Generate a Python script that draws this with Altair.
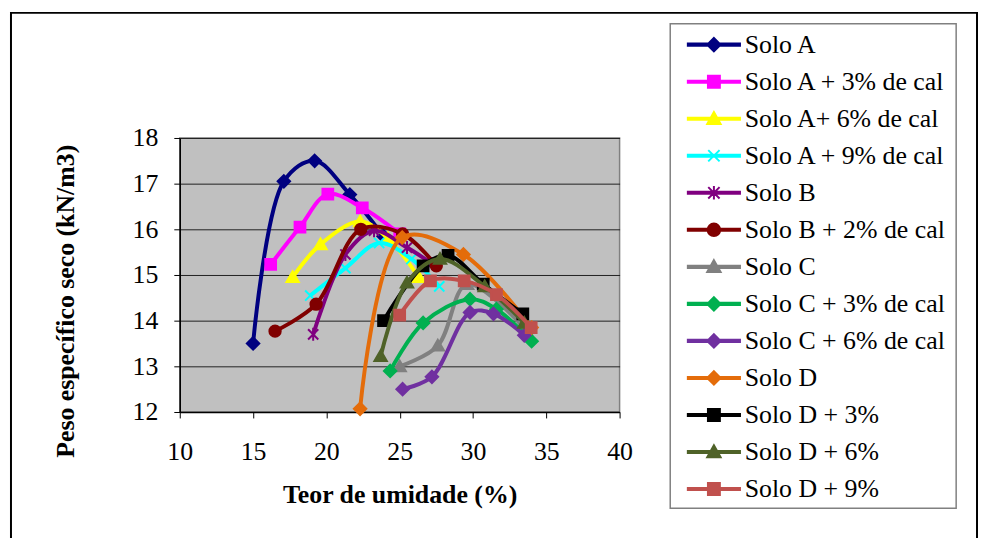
import altair as alt
import pandas as pd

# ---------------- data ----------------
series = [
    "Solo A", "Solo A + 3% de cal", "Solo A+ 6% de cal", "Solo A + 9% de cal",
    "Solo B", "Solo B + 2% de cal", "Solo C", "Solo C + 3% de cal",
    "Solo C + 6% de cal", "Solo D", "Solo D + 3%", "Solo D + 6%", "Solo D + 9%",
]
colors = [
    "#000080", "#FF00FF", "#FFFF00", "#00FFFF",
    "#800080", "#800000", "#808080", "#00B050",
    "#7030A0", "#E46C0A", "#000000", "#4F6228", "#C0504D",
]
markers = ["diamond", "square", "triangle", "x", "asterisk", "circle", "triangle",
           "diamond", "diamond", "diamond", "square", "triangle", "square"]

umidade = [
    [15.0, 17.1, 19.2, 21.6, 23.9],
    [16.2, 18.2, 20.1, 22.45, 25.0],
    [17.7, 19.6, 22.3, 24.2, 26.3],
    [18.9, 21.3, 23.6, 25.8, 27.7],
    [19.1, 21.3, 23.25, 25.5, 27.2],
    [16.5, 19.3, 22.35, 25.2, 27.5],
    [25.0, 27.6, 29.6, 33.6],
    [24.35, 26.6, 29.8, 31.6, 34.0],
    [25.2, 27.2, 29.8, 31.4, 33.5],
    [22.3, 25.17, 29.35, 34.0],
    [23.9, 26.6, 28.3, 30.7, 33.4],
    [23.7, 25.5, 27.75, 30.8, 33.5],
    [25.0, 27.1, 29.4, 31.6, 33.97],
]
peso = [
    [13.5, 17.05, 17.5, 16.76, 15.85],
    [15.23, 16.05, 16.77, 16.47, 15.9],
    [14.95, 15.67, 16.17, 15.8, 14.95],
    [14.55, 15.15, 15.7, 15.35, 14.75],
    [13.7, 15.45, 15.97, 15.6, 15.25],
    [13.77, 14.36, 16.0, 15.9, 15.2],
    [13.0, 13.45, 14.8, 13.8],
    [12.9, 13.95, 14.47, 14.25, 13.55],
    [12.5, 12.77, 14.18, 14.15, 13.68],
    [12.07, 15.82, 15.45, 13.85],
    [14.0, 15.2, 15.43, 14.8, 14.15],
    [13.22, 14.83, 15.35, 14.75, 13.95],
    [14.12, 14.87, 14.87, 14.57, 13.85],
]
x_ticks = [10, 15, 20, 25, 30, 35, 40]
y_ticks = [12, 13, 14, 15, 16, 17, 18]

# ---------------- marker paths ----------------
chart_paths = {
    "diamond": "M0,-1.1L1.1,0L0,1.1L-1.1,0Z",
    "square": "M-0.95,-0.95L0.95,-0.95L0.95,0.95L-0.95,0.95Z",
    "triangle": "M0,-1.05L1.1,0.85L-1.1,0.85Z",
    "x": "M-0.9,-0.9L0.9,0.9M-0.9,0.9L0.9,-0.9",
    "asterisk": "M-0.9,-0.9L0.9,0.9M-0.9,0.9L0.9,-0.9M0,-1.15L0,1.15",
    "circle": "M1,0A1,1 0 1,1 -1,0A1,1 0 1,1 1,0Z",
}
line_part = "M-1.75,-0.07L1.75,-0.07L1.75,0.07L-1.75,0.07Z"
legend_marker = {
    "diamond": "M0,-0.45L0.45,0L0,0.45L-0.45,0Z",
    "square": "M-0.4,-0.4L0.4,-0.4L0.4,0.4L-0.4,0.4Z",
    "triangle": "M0,-0.45L0.45,0.35L-0.45,0.35Z",
    "x": "M-0.38,-0.38L0.38,0.38M-0.38,0.38L0.38,-0.38",
    "asterisk": "M-0.38,-0.38L0.38,0.38M-0.38,0.38L0.38,-0.38M0,-0.45L0,0.45",
    "circle": "M0.42,0A0.42,0.42 0 1,1 -0.42,0A0.42,0.42 0 1,1 0.42,0Z",
}
legend_paths = [line_part + legend_marker[m] for m in markers]

rows = []
for s, xs, ys in zip(series, umidade, peso):
    for i, (xv, yv) in enumerate(zip(xs, ys)):
        rows.append({"serie": s, "umidade": xv, "peso": yv, "ordem": i})
df = pd.DataFrame(rows)

FONT = "Liberation Serif"
FS = 26

x_enc = alt.X(
    "umidade:Q",
    scale=alt.Scale(domain=[10, 40], nice=False, zero=False),
    axis=alt.Axis(
        values=x_ticks, title="Teor de umidade (%)", grid=False,
        tickSize=6, tickColor="black", domainColor="black", domainWidth=1.5,
        labelFont=FONT, labelFontSize=FS, labelColor="black", labelPadding=21,
        labelFlush=False, labelOverlap=False,
        titleFont=FONT, titleFontSize=FS, titleFontWeight="bold", titleColor="black",
        titleX=221.5, titleY=83, titleBaseline="middle", titleAlign="center",
    ),
)
y_enc = alt.Y(
    "peso:Q",
    scale=alt.Scale(domain=[12, 18], nice=False, zero=False),
    axis=alt.Axis(
        values=y_ticks, title="Peso específico seco (kN/m3)", grid=True,
        gridColor="#202020", gridWidth=1,
        tickSize=6, tickColor="black", domainColor="black", domainWidth=1.5,
        labelFont=FONT, labelFontSize=FS, labelColor="black", labelPadding=16,
        labelFlush=False, labelOverlap=False,
        titleFont=FONT, titleFontSize=FS, titleFontWeight="bold", titleColor="black",
        titleX=-115, titleY=164, titleBaseline="middle", titleAlign="center",
        titleAngle=270,
    ),
)

one = pd.DataFrame({"k": [0]})
frame = alt.Chart(one).mark_rect(fill=None, stroke="black", strokeWidth=2, clip=False).encode(
    x=alt.value(-170), x2=alt.value(803), y=alt.value(-126), y2=alt.value(420)
)
legend_box = alt.Chart(one).mark_rect(fill="white", stroke="#808080", strokeWidth=1.5, clip=False).encode(
    x=alt.value(494), x2=alt.value(782), y=alt.value(-115), y2=alt.value(373)
)

layers = [frame, legend_box]
for s, c, m in zip(series, colors, markers):
    base = alt.Chart(df).transform_filter(alt.datum.serie == s)
    layers.append(
        base.mark_line(color=c, strokeWidth=4, interpolate="catmull-rom").encode(
            x=x_enc, y=y_enc, order="ordem:Q"
        )
    )
    layers.append(
        base.mark_point(shape=chart_paths[m], fill=c, stroke=c, strokeWidth=2,
                        size=130, opacity=1, filled=True).encode(x=x_enc, y=y_enc)
    )

leg = alt.Legend(
    title=None, orient="none", legendX=522, legendY=-110,
    symbolSize=900, symbolStrokeWidth=2, padding=0, symbolOffset=0,
    labelFont=FONT, labelFontSize=26, labelColor="black", labelOffset=15,
    labelLimit=500, rowPadding=8.3, symbolOpacity=1,
)
legend_df = pd.DataFrame({"serie": series, "umidade": [100] * len(series), "peso": [15] * len(series)})
legend_layer = alt.Chart(legend_df).mark_point(clip=True, opacity=1, strokeWidth=2).encode(
    x=x_enc, y=y_enc,
    fill=alt.Fill("serie:N", scale=alt.Scale(domain=series, range=colors), legend=leg),
    stroke=alt.Stroke("serie:N", scale=alt.Scale(domain=series, range=colors), legend=leg),
    shape=alt.Shape("serie:N", scale=alt.Scale(domain=series, range=legend_paths), legend=leg),
)
layers.append(legend_layer)

chart = alt.layer(*layers).properties(
    width=443, height=276,
    padding={"left": 173, "top": 129, "right": 361, "bottom": 125},
    autosize=alt.AutoSizeParams(type="none"),
    background="white",
).configure_view(fill="#C0C0C0", stroke="#808080", strokeWidth=1.5)

chart.save("out.html", embed_options={"renderer": "svg", "actions": False})
